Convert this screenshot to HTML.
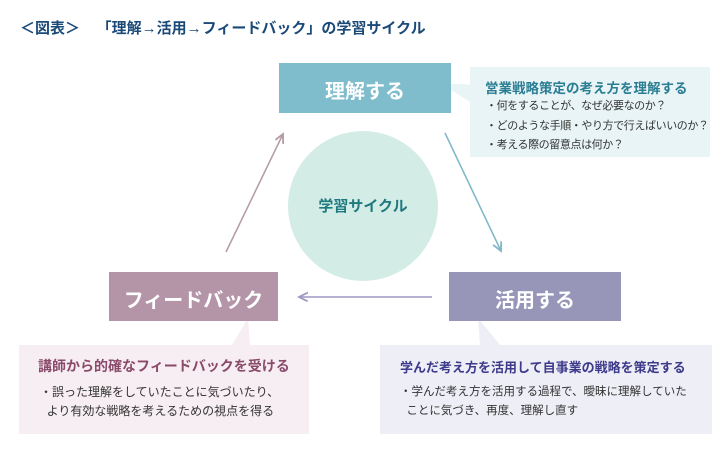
<!DOCTYPE html>
<html><head><meta charset="utf-8"><style>
body{margin:0;width:728px;height:453px;background:#fff;position:relative;overflow:hidden;font-family:"Liberation Sans","Noto Sans CJK JP",sans-serif}
.a{position:absolute;white-space:nowrap}
</style></head><body>
<div class="a" style="left:20px;top:17px;font-size:15px;font-weight:bold;color:#1b4a78">＜図表＞&nbsp;&nbsp;&nbsp;&nbsp;「理解→活用→フィードバック」の学習サイクル</div>
<svg width="728" height="453" style="position:absolute;left:0;top:0">
<defs>
<marker id="m1" markerWidth="8" markerHeight="8" refX="6" refY="3" orient="auto"><path d="M0,0 L6,3 L0,6" fill="none" stroke="#7fb7c6" stroke-width="1.2"/></marker>
<marker id="m2" markerWidth="8" markerHeight="8" refX="6" refY="3" orient="auto"><path d="M0,0 L6,3 L0,6" fill="none" stroke="#9c98c0" stroke-width="1.2"/></marker>
<marker id="m3" markerWidth="8" markerHeight="8" refX="6" refY="3" orient="auto"><path d="M0,0 L6,3 L0,6" fill="none" stroke="#b49aa6" stroke-width="1.2"/></marker>
</defs>
<rect x="470" y="67" width="240" height="90" fill="#e8f4f6"/>
<polygon points="440,83 475,85 475,105" fill="#e8f4f6"/>
<rect x="19" y="345" width="290" height="89" fill="#f6eef2"/>
<polygon points="232,345 248,318 250,345" fill="#f6eef2"/>
<rect x="380" y="345" width="332" height="89" fill="#eeeef6"/>
<polygon points="478,318 480,345 500,345" fill="#eeeef6"/>
<rect x="279" y="63" width="172" height="50" fill="#7fbccc"/>
<rect x="449" y="272" width="172" height="49" fill="#9795b8"/>
<rect x="109" y="272" width="169" height="49" fill="#b495a8"/>
<circle cx="363" cy="206" r="75" fill="#d3ece6"/>
<line x1="445" y1="133" x2="501" y2="251" stroke="#7fb7c6" stroke-width="1.5" marker-end="url(#m1)"/>
<line x1="432" y1="297" x2="299" y2="297" stroke="#9c98c0" stroke-width="1.5" marker-end="url(#m2)"/>
<line x1="226" y1="252" x2="283" y2="134" stroke="#b49aa6" stroke-width="1.5" marker-end="url(#m3)"/>
</svg>
<div class="a" style="left:279px;top:75px;width:172px;text-align:center;font-size:20px;font-weight:bold;color:#fff">理解する</div>
<div class="a" style="left:449px;top:284px;width:172px;text-align:center;font-size:20px;font-weight:bold;color:#fff">活用する</div>
<div class="a" style="left:109px;top:284px;width:169px;text-align:center;font-size:20px;font-weight:bold;color:#fff">フィードバック</div>
<div class="a" style="left:288px;top:195px;width:150px;text-align:center;font-size:15px;font-weight:bold;color:#1f7a80">学習サイクル</div>
<div class="a" style="left:485px;top:77px;font-size:13.5px;font-weight:bold;color:#2a7d92">営業戦略策定の考え方を理解する</div>
<div class="a" style="left:486px;top:97px;font-size:11px;letter-spacing:-0.4px;line-height:19.5px;color:#333">・何をすることが、なぜ必要なのか？<br>・どのような手順・やり方で行えばいいのか？<br>・考える際の留意点は何か？</div>
<div class="a" style="left:38px;top:356px;font-size:14px;font-weight:bold;color:#8a4a6a">講師から的確なフィードバックを受ける</div>
<div class="a" style="left:40px;top:383px;font-size:12px;line-height:19px;color:#333">・誤った理解をしていたことに気づいたり、<br>&nbsp;&nbsp;より有効な戦略を考えるための視点を得る</div>
<div class="a" style="left:400px;top:357px;font-size:13px;font-weight:bold;color:#3d3a8a">学んだ考え方を活用して自事業の戦略を策定する</div>
<div class="a" style="left:400px;top:383px;font-size:11.5px;line-height:19px;color:#333">・学んだ考え方を活用する過程で、曖昧に理解していた<br>&nbsp;&nbsp;ことに気づき、再度、理解し直す</div>
</body></html>
